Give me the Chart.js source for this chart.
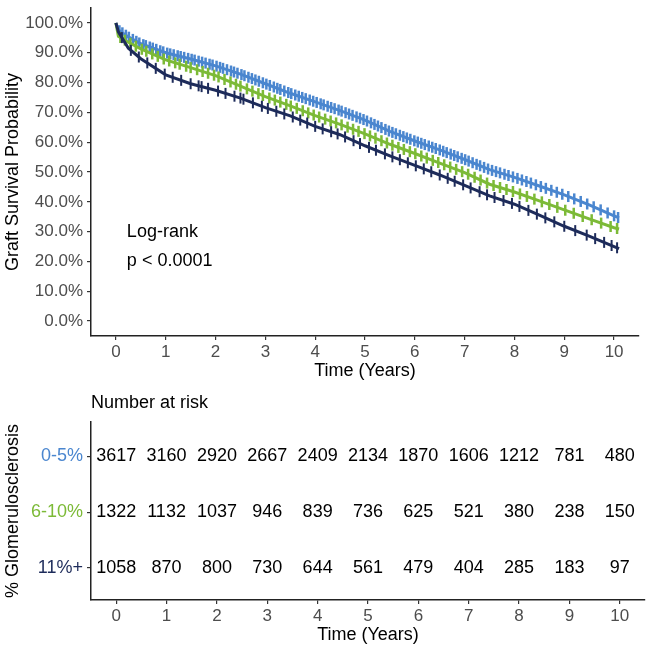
<!DOCTYPE html>
<html>
<head>
<meta charset="utf-8">
<script src="https://cdn.jsdelivr.net/npm/chart.js@4.4.1/dist/chart.umd.min.js"></script>
<style>
  html, body { margin: 0; padding: 0; background: #fff; }
  #wrap { position: relative; width: 647px; height: 646px; }
  #surv { position: absolute; left: 0; top: 0; }
  #risk { position: absolute; left: 0; top: 382px; }
</style>
</head>
<body>
<div id="wrap">
  <canvas id="surv" width="647" height="382"></canvas>
  <canvas id="risk" width="647" height="264"></canvas>
</div>
<script>
// groups and colours
const groups = ['0-5%', '6-10%', '11%+'];
const colors = ['rgb(74, 134, 207)', 'rgb(124, 186, 55)', 'rgb(29, 43, 90)'];

// axis ticks
const years = [0, 1, 2, 3, 4, 5, 6, 7, 8, 9, 10];
const survTicks = [0, 10, 20, 30, 40, 50, 60, 70, 80, 90, 100];

// survival (%) at these times (years)
const times = [0, 0.05, 0.25, 0.5, 1, 1.5, 2, 2.5, 3, 3.5, 4, 4.5, 5, 5.5, 6, 6.5, 7, 7.5, 8, 8.5, 9, 9.5, 10, 10.1];
const survLow  = [100, 97.6, 95.3, 93.0, 90.0, 87.9, 85.6, 82.8, 79.6, 76.4, 73.5, 70.6, 67.4, 63.6, 60.4, 57.4, 54.2, 50.8, 48.2, 45.3, 42.3, 39.0, 35.3, 34.6];
const survMid  = [100, 95.5, 93.5, 91.3, 87.6, 85.0, 82.3, 78.8, 75.3, 72.2, 68.9, 66.0, 62.8, 59.3, 56.2, 53.0, 49.8, 45.9, 43.3, 40.3, 37.3, 34.3, 31.3, 30.9];
const survHigh = [100, 97.0, 91.5, 88.0, 82.6, 79.6, 77.4, 74.8, 71.6, 68.8, 65.3, 62.5, 58.8, 55.4, 52.2, 49.0, 45.5, 42.0, 39.2, 35.5, 31.8, 28.5, 25.0, 24.3];

// censoring times (years)
const censorLow = [0.07, 0.13, 0.2, 0.26, 0.34, 0.41, 0.47, 0.55, 0.6, 0.68, 0.74, 0.81, 0.89, 0.95, 1.03, 1.09, 1.16, 1.24, 1.3, 1.37, 1.45, 1.52, 1.58, 1.66, 1.73, 1.8, 1.88, 1.94, 2.02, 2.09, 2.15, 2.23, 2.31, 2.37, 2.44, 2.52, 2.58, 2.66, 2.73, 2.8, 2.87, 2.95, 3.02, 3.09, 3.17, 3.24, 3.3, 3.38, 3.46, 3.52, 3.6, 3.67, 3.74, 3.81, 3.89, 3.96, 4.03, 4.11, 4.17, 4.25, 4.32, 4.39, 4.47, 4.53, 4.61, 4.68, 4.75, 4.83, 4.9, 4.97, 5.04, 5.12, 5.19, 5.26, 5.33, 5.41, 5.48, 5.55, 5.62, 5.7, 5.77, 5.84, 5.91, 5.99, 6.06, 6.13, 6.2, 6.28, 6.35, 6.42, 6.5, 6.57, 6.64, 6.72, 6.79, 6.86, 6.94, 7.01, 7.08, 7.16, 7.24, 7.31, 7.39, 7.47, 7.55, 7.63, 7.71, 7.8, 7.88, 7.97, 8.06, 8.15, 8.24, 8.33, 8.43, 8.53, 8.63, 8.74, 8.85, 8.96, 9.08, 9.2, 9.33, 9.46, 9.59, 9.73, 9.87, 10.0, 10.08];
const censorMid = [0.09, 0.18, 0.29, 0.4, 0.52, 0.61, 0.73, 0.84, 0.96, 1.07, 1.19, 1.28, 1.41, 1.5, 1.63, 1.74, 1.85, 1.97, 2.06, 2.18, 2.3, 2.41, 2.5, 2.63, 2.74, 2.86, 2.95, 3.08, 3.19, 3.3, 3.42, 3.51, 3.63, 3.75, 3.86, 3.97, 4.08, 4.2, 4.31, 4.42, 4.53, 4.65, 4.76, 4.87, 4.99, 5.1, 5.21, 5.33, 5.44, 5.55, 5.67, 5.78, 5.9, 6.01, 6.13, 6.24, 6.36, 6.47, 6.59, 6.71, 6.83, 6.95, 7.07, 7.2, 7.32, 7.45, 7.58, 7.71, 7.84, 7.97, 8.11, 8.25, 8.4, 8.55, 8.7, 8.86, 9.02, 9.19, 9.37, 9.55, 9.74, 9.93, 10.06];
const censorHigh = [0.12, 0.3, 0.46, 0.63, 0.8, 0.98, 1.14, 1.31, 1.5, 1.66, 1.72, 1.85, 2.05, 2.2, 2.38, 2.5, 2.56, 2.75, 2.93, 3.05, 3.22, 3.38, 3.55, 3.7, 3.84, 4.0, 4.15, 4.32, 4.45, 4.6, 4.77, 4.9, 5.08, 5.22, 5.4, 5.55, 5.7, 5.86, 6.02, 6.18, 6.33, 6.5, 6.66, 6.8, 6.97, 7.12, 7.3, 7.45, 7.6, 7.78, 7.95, 8.1, 8.28, 8.45, 8.62, 8.8, 9.0, 9.22, 9.45, 9.62, 9.8, 9.95, 10.06];

// number at risk
const riskLow  = [3617, 3160, 2920, 2667, 2409, 2134, 1870, 1606, 1212, 781, 480];
const riskMid  = [1322, 1132, 1037, 946, 839, 736, 625, 521, 380, 238, 150];
const riskHigh = [1058, 870, 800, 730, 644, 561, 479, 404, 285, 183, 97];

const survAll = [survLow, survMid, survHigh];
const censorAll = [censorLow, censorMid, censorHigh];
const riskAll = [riskLow, riskMid, riskHigh];

const FONT = "'Liberation Sans', Arial, sans-serif";
Chart.defaults.font.family = FONT;
Chart.defaults.animation = false;

// value of a curve at time t (on the drawn segments)
function curveAt(t, surv) {
  for (let i = 1; i < times.length; i++) {
    if (t <= times[i]) {
      const f = (t - times[i - 1]) / (times[i] - times[i - 1]);
      return surv[i - 1] + f * (surv[i] - surv[i - 1]);
    }
  }
  return surv[surv.length - 1];
}

function xAxis(h) {
  return {
    type: 'linear',
    min: -0.5,
    max: 10.5,
    afterBuildTicks: s => { s.ticks = years.map(v => ({ value: v })); },
    afterFit: s => { s.height = h; s.paddingLeft = 0; s.paddingRight = 0; },
    border: { display: true, color: '#222', width: 1.5 },
    grid: { drawOnChartArea: false, drawTicks: true, tickLength: 4, color: '#333', lineWidth: 1.2 },
    ticks: { color: '#4d4d4d', font: { size: 17 }, padding: 2, maxRotation: 0, autoSkip: false },
    title: { display: true, text: 'Time (Years)', color: '#000', font: { size: 18 }, padding: 0 },
  };
}

function yFit(s) { s.width = 91; s.paddingTop = 0; s.paddingBottom = 0; }

const datasets = [];
groups.forEach((g, k) => {
  datasets.push({
    label: g,
    data: times.map((t, i) => ({ x: t, y: survAll[k][i] })),
    showLine: true,
    borderColor: colors[k],
    borderWidth: 3,
    pointRadius: 0,
    tension: 0,
    order: 10 - 2 * k,
  });
  datasets.push({
    label: g + ' censored',
    data: censorAll[k].map(t => ({ x: t, y: curveAt(t, survAll[k]) })),
    showLine: false,
    pointStyle: 'line',
    rotation: 90,
    pointRadius: 5.5,
    pointBorderWidth: k === 2 ? 2 : 2.5,
    borderColor: colors[k],
    backgroundColor: colors[k],
    order: 9 - 2 * k,
  });
});

const pValueText = {
  id: 'pValueText',
  afterDatasetsDraw(chart) {
    const { ctx, scales } = chart;
    ctx.save();
    ctx.fillStyle = '#000';
    ctx.font = '18px ' + FONT;
    ctx.textAlign = 'left';
    ctx.textBaseline = 'middle';
    ctx.fillText('Log-rank', scales.x.getPixelForValue(0.22), scales.y.getPixelForValue(30));
    ctx.fillText('p < 0.0001', scales.x.getPixelForValue(0.22), scales.y.getPixelForValue(20));
    ctx.restore();
  },
};

new Chart(document.getElementById('surv'), {
  type: 'scatter',
  data: { datasets: datasets },
  options: {
    responsive: false,
    layout: { padding: { left: 0, right: 2, top: 0, bottom: 0 } },
    plugins: { legend: { display: false }, tooltip: { enabled: false } },
    scales: {
      x: xAxis(46),
      y: {
        type: 'linear',
        min: -5,
        max: 105,
        afterBuildTicks: s => { s.ticks = survTicks.map(v => ({ value: v })); },
        afterFit: yFit,
        border: { display: true, color: '#222', width: 1.5 },
        grid: { drawOnChartArea: false, drawTicks: true, tickLength: 4, color: '#333', lineWidth: 1.2 },
        ticks: { color: '#4d4d4d', font: { size: 17 }, padding: 4, callback: v => v.toFixed(1) + '%' },
        title: { display: true, text: 'Graft Survival Probability', color: '#000', font: { size: 18 }, padding: { top: 2, bottom: 0 } },
      },
    },
  },
  plugins: [pValueText],
});

// risk table
const riskText = {
  id: 'riskText',
  afterDatasetsDraw(chart) {
    const { ctx, chartArea } = chart;
    ctx.save();
    ctx.fillStyle = '#000';
    ctx.font = '18px ' + FONT;
    ctx.textAlign = 'center';
    ctx.textBaseline = 'middle';
    chart.data.datasets.forEach((ds, k) => {
      chart.getDatasetMeta(k).data.forEach((pt, i) => {
        ctx.fillText(String(ds.data[i].n), pt.x, pt.y);
      });
    });
    ctx.textAlign = 'left';
    ctx.fillText('Number at risk', chartArea.left, chartArea.top - 19);
    ctx.restore();
  },
};

new Chart(document.getElementById('risk'), {
  type: 'scatter',
  data: {
    datasets: groups.map((g, k) => ({
      label: g,
      data: riskAll[k].map((n, i) => ({ x: years[i], y: k, n: n })),
      pointRadius: 0,
    })),
  },
  options: {
    responsive: false,
    layout: { padding: { left: 0, right: 2, top: 40, bottom: 0 } },
    plugins: { legend: { display: false }, tooltip: { enabled: false } },
    scales: {
      x: xAxis(46),
      y: {
        type: 'linear',
        reverse: true,
        min: -0.61,
        max: 2.57,
        afterBuildTicks: s => { s.ticks = groups.map((g, k) => ({ value: k })); },
        afterFit: yFit,
        border: { display: true, color: '#222', width: 1.5 },
        grid: { drawOnChartArea: false, drawTicks: true, tickLength: 4, color: '#333', lineWidth: 1.2 },
        ticks: {
          font: { size: 18 },
          padding: 4,
          color: c => colors[c.tick ? c.tick.value : c.index] || '#000',
          callback: v => groups[v],
        },
        title: { display: true, text: '% Glomerulosclerosis', color: '#000', font: { size: 18 }, padding: { top: 2, bottom: 0 } },
      },
    },
  },
  plugins: [riskText],
});
</script>
</body>
</html>
